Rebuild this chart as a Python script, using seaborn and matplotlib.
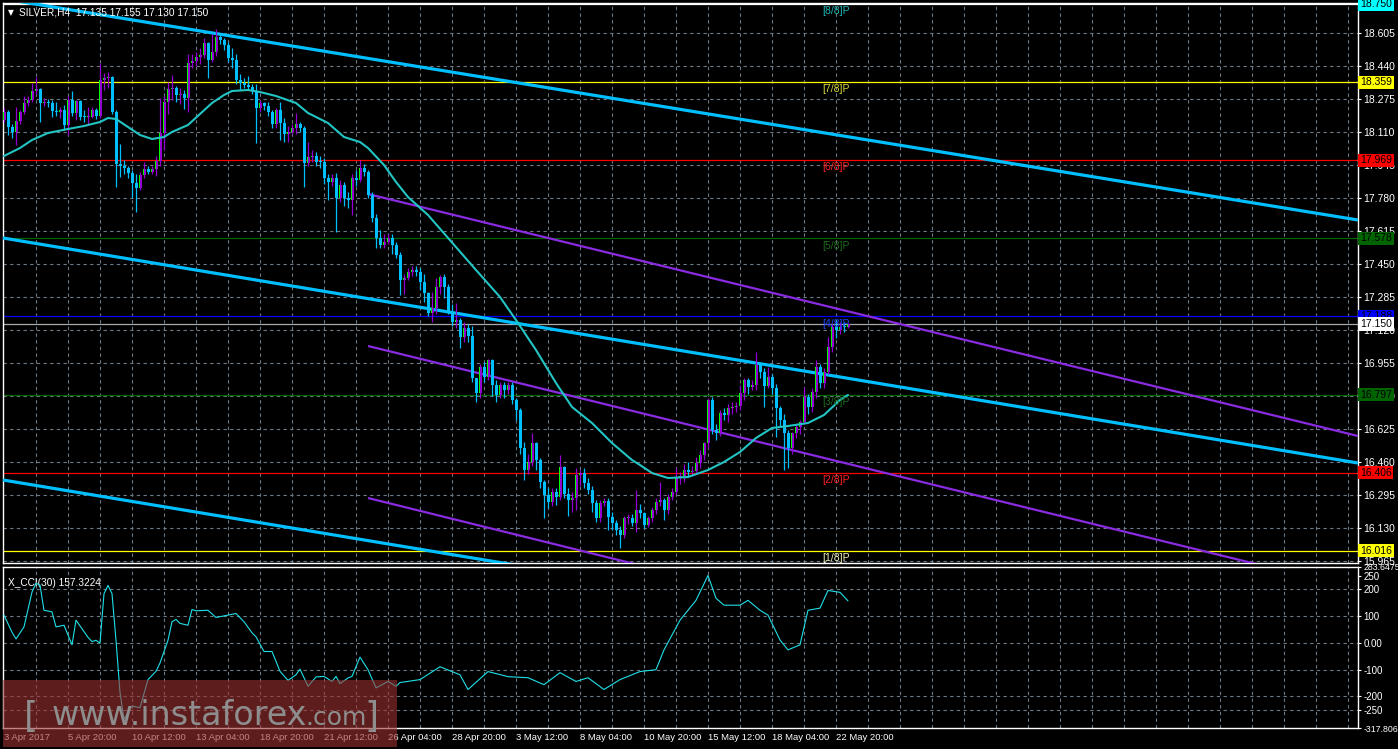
import matplotlib
matplotlib.use("Agg")
import matplotlib.pyplot as plt
import matplotlib.transforms as mtransforms
from matplotlib.patches import Rectangle
import seaborn as sns
import numpy as np

# ---- data -------------------------------------------------------------
first_open = 18.17
closes = [
    18.210, 18.133, 18.112, 18.165, 18.208, 18.253, 18.270, 18.315, 18.325, 18.257,
    18.262, 18.257, 18.217, 18.212, 18.220, 18.145, 18.270, 18.203, 18.265, 18.187,
    18.183, 18.187, 18.220, 18.190, 18.370, 18.378, 18.383, 18.212, 17.950, 17.942,
    17.928, 17.903, 17.853, 17.832, 17.895, 17.925, 17.912, 17.923, 17.967, 18.103,
    18.262, 18.325, 18.328, 18.295, 18.300, 18.278, 18.457, 18.467, 18.487, 18.495,
    18.553, 18.470, 18.508, 18.587, 18.570, 18.545, 18.478, 18.470, 18.370, 18.353,
    18.345, 18.337, 18.315, 18.228, 18.253, 18.242, 18.208, 18.148, 18.220, 18.153,
    18.098, 18.108, 18.128, 18.148, 18.128, 17.953, 17.987, 17.990, 17.962, 17.958,
    17.878, 17.858, 17.882, 17.782, 17.845, 17.782, 17.770, 17.878, 17.870, 17.928,
    17.912, 17.795, 17.678, 17.578, 17.545, 17.562, 17.578, 17.545, 17.495, 17.370,
    17.378, 17.412, 17.420, 17.412, 17.362, 17.303, 17.203, 17.228, 17.337, 17.387,
    17.337, 17.203, 17.162, 17.170, 17.087, 17.128, 17.092, 16.878, 16.803, 16.933,
    16.887, 16.970, 16.845, 16.795, 16.845, 16.820, 16.845, 16.770, 16.720, 16.528,
    16.420, 16.462, 16.553, 16.470, 16.362, 16.295, 16.262, 16.312, 16.287, 16.437,
    16.300, 16.270, 16.278, 16.395, 16.403, 16.353, 16.320, 16.253, 16.178, 16.253,
    16.265, 16.187, 16.153, 16.120, 16.095, 16.178, 16.178, 16.153, 16.220, 16.203,
    16.145, 16.178, 16.220, 16.262, 16.270, 16.220, 16.287, 16.312, 16.378, 16.390,
    16.420, 16.412, 16.417, 16.453, 16.495, 16.553, 16.770, 16.620, 16.603, 16.703,
    16.695, 16.728, 16.737, 16.740, 16.803, 16.870, 16.837, 16.845, 16.945, 16.912,
    16.840, 16.887, 16.828, 16.728, 16.670, 16.603, 16.528, 16.603, 16.637, 16.662,
    16.787, 16.737, 16.812, 16.937, 16.853, 16.912, 17.037, 17.137, 17.120, 17.137,
    17.135, 17.150,
]
highs = [
    18.230, 18.220, 18.150, 18.233, 18.220, 18.290, 18.290, 18.357, 18.387, 18.330,
    18.280, 18.275, 18.270, 18.260, 18.235, 18.245, 18.290, 18.315, 18.270, 18.270,
    18.220, 18.235, 18.235, 18.230, 18.453, 18.403, 18.410, 18.390, 18.220, 18.050,
    17.970, 17.940, 17.920, 17.900, 17.910, 17.962, 17.940, 17.940, 17.990, 18.278,
    18.290, 18.360, 18.395, 18.340, 18.330, 18.320, 18.500, 18.500, 18.510, 18.530,
    18.578, 18.560, 18.600, 18.625, 18.600, 18.580, 18.560, 18.530, 18.500, 18.400,
    18.380, 18.390, 18.350, 18.350, 18.270, 18.260, 18.260, 18.220, 18.230, 18.262,
    18.180, 18.140, 18.150, 18.203, 18.160, 18.140, 18.060, 18.020, 18.010, 17.990,
    17.980, 17.900, 17.900, 17.905, 17.870, 17.860, 17.810, 17.900, 17.920, 17.970,
    17.950, 17.920, 17.810, 17.700, 17.620, 17.600, 17.600, 17.600, 17.560, 17.510,
    17.400, 17.430, 17.440, 17.440, 17.430, 17.400, 17.310, 17.310, 17.378, 17.395,
    17.400, 17.350, 17.250, 17.253, 17.180, 17.160, 17.150, 17.140, 16.880, 16.950,
    16.962, 16.975, 16.975, 16.870, 16.860, 16.860, 16.860, 16.860, 16.780, 16.730,
    16.560, 16.500, 16.603, 16.560, 16.480, 16.370, 16.330, 16.330, 16.330, 16.495,
    16.440, 16.330, 16.310, 16.428, 16.420, 16.430, 16.380, 16.340, 16.270, 16.270,
    16.280, 16.280, 16.210, 16.170, 16.140, 16.190, 16.200, 16.200, 16.320, 16.250,
    16.210, 16.190, 16.235, 16.280, 16.362, 16.280, 16.300, 16.330, 16.428, 16.410,
    16.450, 16.460, 16.440, 16.487, 16.520, 16.560, 16.780, 16.787, 16.650, 16.720,
    16.730, 16.750, 16.760, 16.760, 16.845, 16.878, 16.880, 16.870, 17.012, 16.960,
    16.930, 16.937, 16.900, 16.850, 16.740, 16.700, 16.620, 16.610, 16.650, 16.670,
    16.837, 16.800, 16.830, 16.970, 16.950, 16.930, 17.087, 17.150, 17.170, 17.160,
    17.160, 17.155,
]
lows = [
    18.160, 18.095, 18.078, 18.045, 18.150, 18.200, 18.240, 18.260, 18.300, 18.162,
    18.240, 18.235, 18.187, 18.190, 18.180, 18.120, 18.095, 18.190, 18.170, 18.170,
    18.160, 18.145, 18.180, 18.175, 18.180, 18.320, 18.330, 18.200, 17.837, 17.887,
    17.900, 17.880, 17.782, 17.712, 17.820, 17.880, 17.900, 17.900, 17.890, 17.940,
    18.020, 18.200, 18.270, 18.260, 18.250, 18.223, 18.212, 18.430, 18.440, 18.450,
    18.480, 18.382, 18.460, 18.490, 18.550, 18.520, 18.460, 18.430, 18.350, 18.320,
    18.330, 18.320, 18.300, 18.053, 18.210, 18.220, 18.190, 18.130, 18.130, 18.070,
    18.060, 18.060, 18.100, 18.100, 18.110, 17.837, 17.940, 17.960, 17.940, 17.928,
    17.850, 17.770, 17.840, 17.612, 17.760, 17.740, 17.730, 17.695, 17.840, 17.860,
    17.890, 17.780, 17.660, 17.528, 17.530, 17.530, 17.550, 17.500, 17.480, 17.295,
    17.300, 17.370, 17.390, 17.390, 17.320, 17.262, 17.190, 17.160, 17.200, 17.300,
    17.280, 17.200, 17.140, 17.130, 17.028, 17.060, 17.060, 16.860, 16.762, 16.780,
    16.860, 16.870, 16.790, 16.762, 16.780, 16.780, 16.800, 16.750, 16.670, 16.500,
    16.370, 16.400, 16.440, 16.420, 16.330, 16.178, 16.230, 16.240, 16.245, 16.270,
    16.280, 16.190, 16.210, 16.220, 16.340, 16.330, 16.300, 16.210, 16.160, 16.160,
    16.240, 16.120, 16.120, 16.095, 16.028, 16.080, 16.150, 16.140, 16.110, 16.180,
    16.130, 16.135, 16.160, 16.200, 16.240, 16.170, 16.200, 16.270, 16.300, 16.350,
    16.360, 16.390, 16.390, 16.400, 16.430, 16.470, 16.530, 16.600, 16.570, 16.590,
    16.670, 16.660, 16.700, 16.710, 16.720, 16.770, 16.800, 16.820, 16.820, 16.880,
    16.737, 16.830, 16.800, 16.587, 16.640, 16.420, 16.428, 16.500, 16.580, 16.600,
    16.650, 16.700, 16.710, 16.780, 16.830, 16.830, 16.900, 17.010, 17.080, 17.100,
    17.110, 17.130,
]

# moving average (read at a subset of bars)
ma_bars = [0, 4, 7, 11, 16, 20, 24, 26, 28, 31, 34, 37, 40, 42, 46, 49, 52, 55,
           57, 61, 64, 68, 73, 76, 81, 85, 89, 91, 95, 98, 101, 106, 118, 124,
           128, 133, 138, 142, 147, 152, 157, 159, 162, 166, 171, 176, 180, 184,
           188, 192, 196, 201, 205, 209, 211]
ma_vals = [17.990, 18.030, 18.070, 18.105, 18.125, 18.140, 18.160, 18.180, 18.175,
           18.135, 18.095, 18.075, 18.085, 18.110, 18.145, 18.200, 18.255, 18.295,
           18.315, 18.320, 18.310, 18.290, 18.255, 18.205, 18.155, 18.085, 18.060,
           18.030, 17.945, 17.860, 17.785, 17.695, 17.420, 17.285, 17.170, 17.020,
           16.855, 16.735, 16.655, 16.555, 16.470, 16.445, 16.405, 16.380, 16.385,
           16.420, 16.460, 16.510, 16.580, 16.630, 16.640, 16.655, 16.695, 16.770,
           16.795]

# CCI(30) (read at a subset of bars)
cci_bars = [0, 2, 3, 5, 7, 8, 9, 10, 12, 13, 15, 17, 18, 21, 22, 23, 24, 25, 26,
            27, 28, 29, 30, 32, 34, 36, 38, 39, 41, 42, 43, 44, 46, 47, 48, 51, 53,
            58, 60, 62, 63, 65, 67, 69, 71, 73, 74, 76, 78, 80, 82, 83, 84, 86, 87,
            89, 91, 93, 96, 98, 99, 104, 109, 114, 116, 121, 126, 131, 135, 139,
            143, 146, 150, 154, 159, 163, 165, 169, 173, 176, 178, 180, 184, 186,
            189, 191, 194, 196, 199, 201, 204, 206, 209, 211]
cci_vals = [104, 40, 15, 60, 190, 223, 216, 122, 116, 60, 66, -7, 85, 21, 5, 10,
            -1, 184, 215, 184, 10, -185, -285, -236, -242, -137, -106, -75, 10,
            79, 88, 73, 66, 125, 120, 122, 95, 110, 79, 38, 23, -32, -32, -106,
            -140, -119, -98, -162, -127, -125, -144, -125, -152, -131, -125, -53,
            -100, -168, -144, -162, -148, -137, -89, -119, -174, -107, -126, -130,
            -156, -111, -144, -130, -174, -137, -107, -100, -26, 85, 159, 252, 167,
            141, 141, 159, 122, 104, 11, -26, -7, 122, 130, 196, 189, 157]

# trend channels: (bar, price) end points
blue_channels = [((-0.25, 18.776), (338.5, 17.670)),
                 ((-0.25, 17.580), (338.5, 16.455)),
                 ((-0.25, 16.370), (338.5, 15.245))]
purple_channels = [((91.0, 17.800), (338.5, 16.590)),
                   ((91.0, 17.040), (338.5, 15.825)),
                   ((91.0, 16.280), (338.5, 15.055))]

# Murrey math levels
mm_levels = [18.750, 18.359, 17.969, 17.578, 17.188, 16.797, 16.406, 16.016]
mm_names = ["[8/8]P", "[7/8]P", "[6/8]P", "[5/8]P", "[4/8]P", "[3/8]P", "[2/8]P", "[1/8]P"]
mm_colors = ["#1fb8b8", "#d8d838", "#ff2020", "#1d6b1d", "#2244ff", "#1d6b1d", "#ff2020", "#f0f0b8"]
mm_line_colors = ["#ffffff", "#ffff00", "#ff0000", "#006400", "#0000ff", "#006400", "#ff0000", "#ffff00"]
mm_box_colors = ["#00ffff", "#ffff00", "#ff0000", "#006400", "#0000ff", "#006400", "#ff0000", "#ffff00"]
last_price = 17.150

price_ticks = [18.605, 18.440, 18.275, 18.110, 17.945, 17.780, 17.615, 17.450, 17.285,
               17.120, 16.955, 16.790, 16.625, 16.460, 16.295, 16.130, 15.965]
cci_ticks = [283.6475, 250, 200, 100, 0, -100, -200, -250, -317.806]
cci_tick_labels = ["283.6475", "250", "200", "100", "0.00", "-100", "-200", "-250", "-317.806"]
date_labels = ["3 Apr 2017", "5 Apr 20:00", "10 Apr 12:00", "13 Apr 04:00", "18 Apr 20:00",
               "21 Apr 12:00", "26 Apr 04:00", "28 Apr 20:00", "3 May 12:00", "8 May 04:00",
               "10 May 20:00", "15 May 12:00", "18 May 04:00", "22 May 20:00"]

# ---- style ------------------------------------------------------------
sns.set_style("dark")
plt.rcParams["font.family"] = ["Liberation Sans", "DejaVu Sans"]
GRID = "#6c7a88"
DASH = (0, (3, 3))
FG = "#ffffff"

W, H = 1398, 749
fig = plt.figure(figsize=(W / 100, H / 100), dpi=100, facecolor="black")

XMIN, XMAX = -0.25, 338.5
ax = fig.add_axes([3 / W, (H - 563) / H, 1355 / W, 560 / H])
cx = fig.add_axes([3 / W, (H - 728) / H, 1355 / W, 161 / H], sharex=ax)

for a in (ax, cx):
    a.set_facecolor("black")
    for s in a.spines.values():
        s.set_color(FG)
        s.set_linewidth(1.0)
    a.grid(False)
    for b in range(8, 340, 8):
        a.axvline(b, color=GRID, linestyle=DASH, linewidth=0.8, zorder=0)
    a.yaxis.tick_right()
    a.tick_params(axis="y", colors=FG, labelsize=7.5, length=2.5, width=0.8, pad=1.5)

ax.set_xlim(XMIN, XMAX)
ax.set_ylim(15.955, 18.755)
ax.set_yticks(price_ticks)
ax.set_yticklabels([f"{t:.3f}" for t in price_ticks])
for t in price_ticks:
    ax.axhline(t, color=GRID, linestyle=DASH, linewidth=0.8, zorder=0)
ax.tick_params(axis="x", which="both", length=0, labelbottom=False)

# Murrey lines
for lvl, lc in zip(mm_levels, mm_line_colors):
    ax.axhline(lvl, color=lc, linewidth=0.9, zorder=1)
ax.axhline(last_price, color="#a8a8a8", linewidth=0.9, zorder=1)

# channels
for (x0, y0), (x1, y1) in blue_channels:
    ax.plot([x0, x1], [y0, y1], color="#00bfff", linewidth=2.3, zorder=3, solid_capstyle="butt")
for (x0, y0), (x1, y1) in purple_channels:
    ax.plot([x0, x1], [y0, y1], color="#8a2be2", linewidth=1.6, zorder=3, solid_capstyle="butt")

# candles
opens = np.array([first_open] + closes[:-1])
c = np.array(closes)
hi = np.array(highs)
lo = np.array(lows)
idx = np.arange(len(c))
bull = c >= opens
BULL, BULL_FILL, BEAR = "#9400d3", "#00ff00", "#00bfff"
ax.vlines(idx[bull], lo[bull], hi[bull], color=BULL, linewidth=0.9, zorder=4)
ax.vlines(idx[~bull], lo[~bull], hi[~bull], color=BEAR, linewidth=0.9, zorder=4)
body_lo = np.minimum(opens, c)
body_h = np.maximum(np.abs(c - opens), 0.005)
ax.bar(idx[bull], body_h[bull], bottom=body_lo[bull], width=0.75, color=BULL, linewidth=0, zorder=5)
ax.bar(idx[bull] - 0.25, body_h[bull], bottom=body_lo[bull], width=0.25, color=BULL_FILL, linewidth=0, zorder=5)
ax.bar(idx[~bull], body_h[~bull], bottom=body_lo[~bull], width=0.75, color=BEAR, linewidth=0, zorder=5)

# moving average
sns.lineplot(x=ma_bars, y=ma_vals, ax=ax, color="#22c4c4", linewidth=1.5, estimator=None, zorder=6)
ax.set_xlabel("")
ax.set_ylabel("")

# Murrey labels and price boxes
ytrans = mtransforms.blended_transform_factory(ax.transAxes, ax.transData)
for lvl, name, col, bc in zip(mm_levels, mm_names, mm_colors, mm_box_colors):
    ax.text(204.5, lvl - 0.036, name, color=col, fontsize=7.5, va="center", ha="left", zorder=7)
    ax.text(1.0015, lvl, f"{lvl:.3f}", transform=ytrans, color="#000000", fontsize=7.5,
            va="center", ha="left", clip_on=False, zorder=20,
            bbox=dict(facecolor=bc, edgecolor="none", pad=1.2))
ax.text(1.0015, last_price, f"{last_price:.3f}", transform=ytrans, color="#000000", fontsize=7.5,
        va="center", ha="left", clip_on=False, zorder=21,
        bbox=dict(facecolor="#ffffff", edgecolor="none", pad=1.2))

ax.text(0.006, 0.983, "\u25bc", transform=ax.transAxes, color=FG, fontsize=5.5,
        va="center", ha="center", family=["DejaVu Sans"])
ax.text(0.012, 0.983, "SILVER,H4  17.135 17.155 17.130 17.150", transform=ax.transAxes,
        color=FG, fontsize=7.3, va="center", ha="left")

# CCI panel
cx.set_ylim(-317.806, 283.6475)
cx.set_yticks(cci_ticks)
cx.set_yticklabels(cci_tick_labels)
cx.tick_params(axis="y", labelsize=7)
for lab in (cx.get_yticklabels()[0], cx.get_yticklabels()[-1]):
    lab.set_fontsize(6.3)
for t in [200, 100, 0, -100, -200, -250]:
    cx.axhline(t, color=GRID, linestyle=DASH, linewidth=0.8, zorder=0)
sns.lineplot(x=cci_bars, y=cci_vals, ax=cx, color="#1fe0e8", linewidth=0.8, estimator=None, zorder=4)
cx.set_xlabel("")
cx.set_ylabel("")
cx.text(0.004, 0.9, "X_CCI(30) 157.3224", transform=cx.transAxes, color=FG, fontsize=7.3,
        va="center", ha="left")

cx.set_xticks(range(0, 16 * len(date_labels), 16))
cx.set_xticklabels(date_labels)
cx.set_xticks(range(8, 340, 16), minor=True)
cx.tick_params(axis="x", which="major", colors=FG, labelsize=6.8, length=3, width=0.8, pad=2,
               direction="inout")
cx.tick_params(axis="x", which="minor", colors=FG, length=3, width=0.8, direction="in")
for lab in cx.get_xticklabels():
    lab.set_ha("left")
cx.set_xlim(XMIN, XMAX)

# watermark
fig.add_artist(Rectangle((3 / W, (H - 747) / H), 394 / W, 67 / H, transform=fig.transFigure,
                         facecolor="#9e3232", alpha=0.6, edgecolor="none", zorder=50))
wm = dict(color="#8e8e8e", zorder=51, va="baseline", ha="left")
fig.text(24 / W, (H - 727) / H, "[", fontsize=26, family=["DejaVu Sans"], **wm)
fig.text(52 / W, (H - 725) / H, "www.instaforex", fontsize=24, family=["DejaVu Sans"], **wm)
fig.text(305 / W, (H - 725) / H, ".com", fontsize=18, family=["DejaVu Sans"], **wm)
fig.text(364 / W, (H - 727) / H, "]", fontsize=26, family=["DejaVu Sans"], **wm)

fig.savefig("out.png", dpi=100, facecolor="black")
